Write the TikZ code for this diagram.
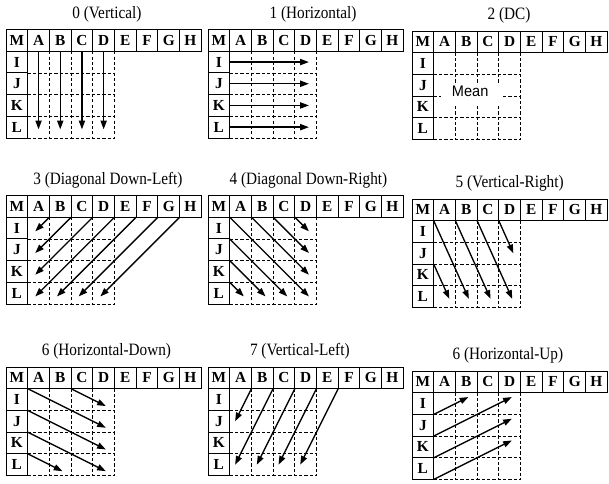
\documentclass[tikz,border=0pt]{standalone}
\usepackage{fontspec}
\setmainfont{Liberation Serif}
\newfontfamily\ttlfont[FakeStretch=0.88]{Liberation Serif}
\newfontfamily\meanfont[FakeStretch=0.95]{Liberation Sans}
\usetikzlibrary{arrows.meta}
\tikzset{
  cellbox/.style={draw, line width=0.7pt, minimum size=16.275pt, inner sep=0pt,
    font=\bfseries\fontsize{11.5}{11.5}\selectfont},
  gridline/.style={line width=0.6pt, dash pattern=on 2.4pt off 1.6pt},
  ttl/.style={inner sep=0pt, font=\ttlfont\fontsize{13}{13}\selectfont},
  arr/.style={line width=1pt, -{Triangle[length=6.5pt,width=4.6pt]}},
  meanbox/.style={fill=white, draw=none, minimum width=46.5pt, minimum height=14.6pt, inner sep=0pt},
  meantext/.style={inner sep=0pt, font=\meanfont\fontsize{11.5}{11.5}\selectfont},
}
% #1 name, #2 x, #3 y (px, top-left of M cell), #4 title, #5 title x (cells), #6 interior drawing
\newcommand\drawpanel[6]{%
  \begin{scope}[shift={(#2,#3)}, x=16.275pt, y=-16.275pt]
    \foreach \l [count=\i from 0] in {M,A,B,C,D,E,F,G,H}
      \node[cellbox] (#1-\l) at (\i+0.5,0.5) {\l};
    \foreach \l [count=\j from 1] in {I,J,K,L}
      \node[cellbox] (#1-\l) at (0.5,\j+0.5) {\l};
    \foreach \k in {2,...,5} \draw[gridline] (\k,1) -- (\k,5);
    \foreach \k in {2,...,5} \draw[gridline] (1,\k) -- (5,\k);
    \node[ttl] (#1-title) at (#5,-0.72) {#4};
    \begin{scope}[shift={(1,1)}]
      #6
    \end{scope}
  \end{scope}}
\begin{document}
\begin{tikzpicture}[x=0.75pt, y=-0.75pt]
\useasboundingbox (0,0) rectangle (609,483);
% Row 1
\drawpanel{p0}{6}{29.5}{0 (Vertical)}{4.65}{%
  \foreach \c in {0,...,3} \draw[arr] (\c+0.5,0) -- (\c+0.5,3.6);}
\drawpanel{p1}{208}{29.5}{1 (Horizontal)}{4.84}{%
  \foreach \r in {0,...,3} \draw[arr] (0,\r+0.5) -- (3.65,\r+0.5);}
\drawpanel{p2}{412}{31}{2 (DC)}{4.47}{%
  \node[meanbox] (p2-box) at (1.78,1.95) {};
  \node[meantext] (p2-mean) at (1.68,1.8) {Mean};}
% Row 2
\drawpanel{p3}{6}{195.5}{3 (Diagonal Down-Left)}{4.7}{%
  \foreach \k/\t in {1/0.65,2/1.65,3/2.65,4/3.65,5/3.65,6/3.65,7/3.65}
    \draw[arr] (\k,0) -- (\k-\t,\t);}
\drawpanel{p4}{208}{195.5}{4 (Diagonal Down-Right)}{4.63}{%
  \foreach \a/\b/\t in {0/0/3.65,1/0/2.65,2/0/1.65,3/0/0.65,0/1/2.65,0/2/1.65,0/3/0.65}
    \draw[arr] (\a,\b) -- (\a+\t,\b+\t);}
\drawpanel{p5}{412}{199}{5 (Vertical-Right)}{4.5}{%
  \draw[arr] (0,0) -- (1.62,3.6);
  \draw[arr] (1,0) -- (2.62,3.6);
  \draw[arr] (2,0) -- (3.62,3.6);
  \draw[arr] (3,0) -- (3.67,1.5);
  \draw[arr] (0,2) -- (0.72,3.6);}
% Row 3
\drawpanel{p6}{6}{367}{6 (Horizontal-Down)}{4.63}{%
  \draw[arr] (2,0) -- (3.6,0.8);
  \draw[arr] (0,0) -- (3.6,1.8);
  \draw[arr] (0,1) -- (3.6,2.8);
  \draw[arr] (0,2) -- (3.6,3.8);
  \draw[arr] (0,3) -- (1.6,3.8);}
\drawpanel{p7}{208}{367}{7 (Vertical-Left)}{4.23}{%
  \draw[arr] (1,0) -- (0.25,1.5);
  \draw[arr] (2,0) -- (0.25,3.5);
  \draw[arr] (3,0) -- (1.25,3.5);
  \draw[arr] (4,0) -- (2.25,3.5);
  \draw[arr] (5,0) -- (3.25,3.5);}
\drawpanel{p8}{412}{371}{6 (Horizontal-Up)}{4.42}{%
  \draw[arr] (0,1) -- (1.6,0.2);
  \draw[arr] (0,2) -- (3.6,0.2);
  \draw[arr] (0,3) -- (3.6,1.2);
  \draw[arr] (0,4) -- (3.6,2.2);}
\end{tikzpicture}
\end{document}
